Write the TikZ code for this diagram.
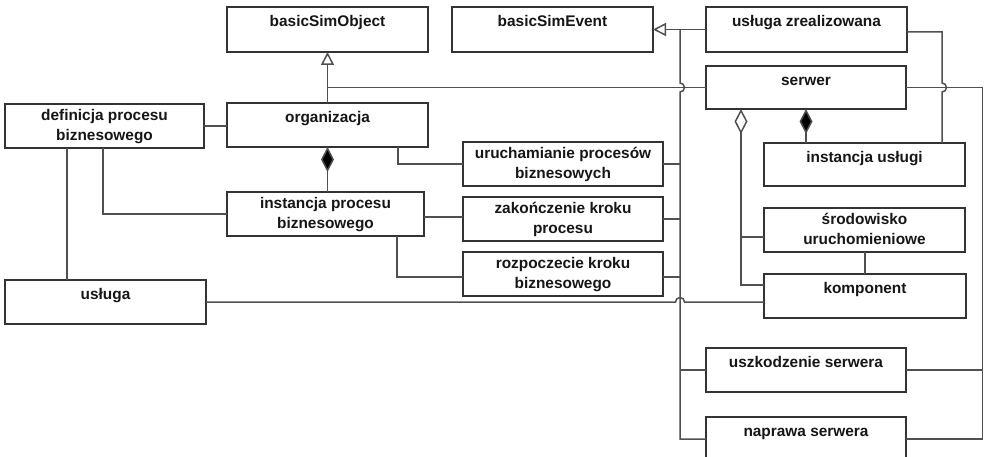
\documentclass[tikz,border=0pt]{standalone}
\usepackage{fontspec}
\setmainfont{Liberation Sans}
\usetikzlibrary{arrows.meta,calc}
\definecolor{boxc}{HTML}{333333}
\definecolor{linec}{HTML}{505050}
\definecolor{txtc}{HTML}{161616}
\tikzset{
  box/.style={draw=boxc, line width=1.4pt, rectangle, inner sep=0pt, outer sep=0pt, anchor=north west, fill=white},
  ttl/.style={anchor=north, align=center, inner sep=0pt, font=\bfseries\fontsize{15.4}{20}\selectfont, text=txtc, execute at begin node=\strut},
  conn/.style={draw=linec, line width=1.5pt},
  gen/.style={conn, -{Triangle[open, length=13pt, width=13pt]}},
  comp/.style={conn, {Diamond[length=25pt, width=13pt, fill=black]}-},
  agg/.style={conn, {Diamond[open, length=25pt, width=13pt]}-},
}
\newcommand\umlbox[6]{%
  \node[box, minimum width=#4pt-#2pt, minimum height=#5pt-#3pt] (#1) at (#2,#3) {};
  \node[ttl] (#1t) at ([yshift=-5.5pt]#1.north) {#6};}
\begin{document}
\begin{tikzpicture}[x=1pt,y=-1pt]
\useasboundingbox (0,0) rectangle (984,457);
\fill[white] (0,0) rectangle (984,457);
% boxes
\umlbox{bso}{227}{7}{428}{52}{basicSimObject}
\umlbox{bse}{452}{7}{653}{52}{basicSimEvent}
\umlbox{uz}{706}{7}{907}{52}{usługa zrealizowana}
\umlbox{srv}{706}{66}{906}{109}{serwer}
\umlbox{def}{5}{104}{204}{148}{definicja procesu\\biznesowego}
\umlbox{org}{227}{103}{428}{147}{organizacja}
\umlbox{iu}{764}{143}{965}{186}{instancja usługi}
\umlbox{uru}{463}{142}{663}{186}{uruchamianie procesów\\biznesowych}
\umlbox{ipb}{227}{192}{424}{236}{instancja procesu\\biznesowego}
\umlbox{zak}{463}{197}{663}{241}{zakończenie kroku\\procesu}
\umlbox{sro}{764}{208}{965}{252}{środowisko\\uruchomieniowe}
\umlbox{roz}{463}{252}{663}{296}{rozpoczecie kroku\\biznesowego}
\umlbox{usl}{5}{280}{206}{324}{usługa}
\umlbox{kom}{764}{274}{966}{318}{komponent}
\umlbox{usz}{706}{348}{906}{392}{uszkodzenie serwera}
\umlbox{nap}{706}{417}{906}{461}{naprawa serwera}
% helper columns
\coordinate (trk) at (680,0);
\coordinate (rcx) at (942,0);
\coordinate (rrx) at (982.5,0);
\coordinate (aggx) at (741,0);
% generalisations
\draw[gen] (org.north) -- (org.north |- bso.south);
\draw[conn] (srv.west) -- (srv.west -| org.north);
\draw[gen] (uz.west) -- (uz.west -| bse.east);
% event trunk
\draw[conn] (uz.west -| trk) -- ($(srv.west -| trk)+(0,-4.5)$)
  arc[start angle=-90, end angle=90, radius=4.5] -- (nap.west -| trk) -- (nap.west);
\draw[conn] (uru.east) -- (uru.east -| trk);
\draw[conn] (zak.east) -- (zak.east -| trk);
\draw[conn] ($(roz.east)+(0,3)$) coordinate (r1) -- (r1 -| trk);
\draw[conn] (usz.west) -- (usz.west -| trk);
% usluga - komponent
\draw[conn] (usl.east) -- ($(usl.east -| trk)+(-4.5,0)$)
  arc[start angle=180, end angle=360, radius=4.5] -- (usl.east -| kom.west);
% usluga zrealizowana - instancja uslugi
\draw[conn] ($(uz.east)+(0,2.5)$) coordinate (u1) -- (u1 -| rcx) -- ($(srv.east -| rcx)+(0,-4.5)$)
  arc[start angle=-90, end angle=90, radius=4.5] -- (iu.north -| rcx);
% serwer - awarie
\draw[conn] (srv.east) -| (nap.east -| rrx) -- (nap.east);
\draw[conn] (usz.east) -- (usz.east -| rrx);
% left part
\draw[comp] (org.south) -- (org.south |- ipb.north);
\draw[conn] (def.east) -- (def.east -| org.west);
\draw[conn] ($(org.south west)+(171,0)$) |- (uru.west);
\draw[conn] ($(def.south west)+(98,0)$) |- (ipb.west);
\draw[conn] ($(def.south west)+(62,0)$) -- ($(usl.north west)+(62,0)$);
\draw[conn] ($(ipb.east)+(0,3)$) coordinate (a1) -- (a1 -| zak.west);
\draw[conn] ($(ipb.south west)+(170,0)$) |- ($(roz.west)+(0,3)$);
% serwer parts
\draw[comp] (srv.south) -- (srv.south |- iu.north);
\draw[agg] (srv.south -| aggx) |- ($(kom.west)+(0,-11)$);
\draw[conn] ($(sro.west)+(0,7)$) coordinate (a2) -- (a2 -| aggx);
\draw[conn] ($(sro.south west)+(101,0)$) -- ($(kom.north west)+(101,0)$);
\end{tikzpicture}
\end{document}
